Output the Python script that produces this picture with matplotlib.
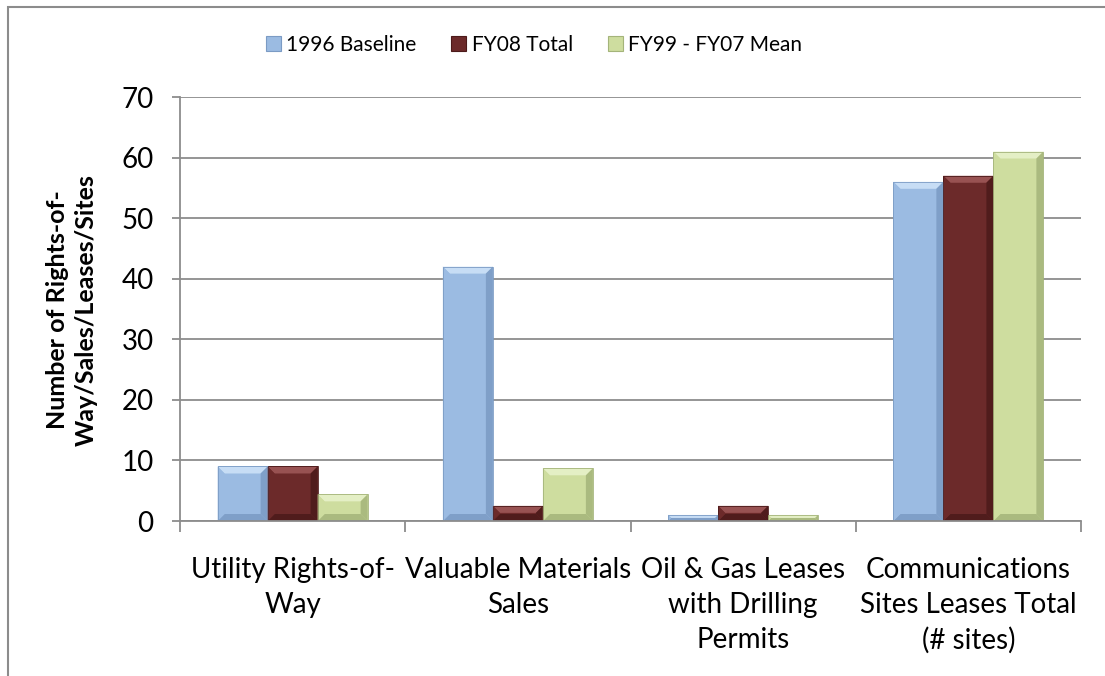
import matplotlib
matplotlib.use("Agg")
import matplotlib.pyplot as plt
from matplotlib.patches import Polygon, Patch, Rectangle
import numpy as np

categories = [
    "Utility Rights-of-\nWay",
    "Valuable Materials\nSales",
    "Oil & Gas Leases\nwith Drilling\nPermits",
    "Communications\nSites Leases Total\n(# sites)",
]
series_names = ["1996 Baseline", "FY08 Total", "FY99 - FY07 Mean"]
baseline_1996 = [9, 42, 1, 56]
fy08_total = [9, 2.5, 2.5, 57]
fy99_fy07_mean = [4.4, 8.7, 1, 61]
y_ticks = [0, 10, 20, 30, 40, 50, 60, 70]

# main / light (top bevel) / dark (right & bottom bevel) shades per series
palette = [
    ("#9bbbe2", "#cfe4f9", "#7b9bc4"),
    ("#6c2a2a", "#a15a5a", "#4c1a1a"),
    ("#cedd9f", "#e9f3cc", "#a4b47a"),
]

plt.rcParams["font.family"] = ["Lato", "DejaVu Sans"]

W, H = 1105, 676
fig = plt.figure(figsize=(W / 100, H / 100), dpi=100)
ax = fig.add_axes([180 / W, 1 - 521 / H, (1081 - 180) / W, (521 - 97) / H])

x = np.arange(len(categories))
bw = 0.222
all_series = [baseline_1996, fy08_total, fy99_fy07_mean]
bar_groups = []
for i, vals in enumerate(all_series):
    bars = ax.bar(x + (i - 1) * bw, vals, width=bw, color=palette[i][0],
                  linewidth=0, zorder=3)
    bar_groups.append(bars)

ax.set_xlim(-0.5, len(categories) - 0.5)
ax.set_ylim(0, 70)
ax.set_yticks(y_ticks)
ax.set_yticklabels([str(t) for t in y_ticks])

# bevelled edges drawn on top of each bar
to_px = ax.transData
to_data = ax.transData.inverted()
for i, bars in enumerate(bar_groups):
    main, light, dark = palette[i]
    for p in bars:
        x0, y0 = p.get_x(), p.get_y()
        x1, y1 = x0 + p.get_width(), y0 + p.get_height()
        (px0, py0), (px1, py1) = to_px.transform([(x0, y0), (x1, y1)])
        b = min(7.0, (py1 - py0) / 2.0, (px1 - px0) / 2.0)
        quads = {
            "top": ([(px0, py1), (px1, py1), (px1 - b, py1 - b), (px0 + b, py1 - b)], light),
            "right": ([(px1, py1), (px1, py0), (px1 - b, py0 + b), (px1 - b, py1 - b)], dark),
            "bottom": ([(px0, py0), (px1, py0), (px1 - b, py0 + b), (px0 + b, py0 + b)], dark),
            "left": ([(px0, py1), (px0 + b, py1 - b), (px0 + b, py0 + b), (px0, py0)], main),
        }
        for pts, col in quads.values():
            ax.add_patch(Polygon(to_data.transform(pts), closed=True,
                                 facecolor=col, edgecolor="none", alpha=0.85,
                                 zorder=4))
        ax.add_patch(Rectangle((x0, y0), x1 - x0, y1 - y0, facecolor="none",
                               edgecolor=dark, linewidth=0.6, zorder=5))

grid_col = "#8c8c8c"
ax.grid(axis="y", color=grid_col, linewidth=1.3, zorder=1)
ax.set_axisbelow(True)
for s in ["top", "right"]:
    ax.spines[s].set_visible(False)
for s in ["left", "bottom"]:
    ax.spines[s].set_color(grid_col)
    ax.spines[s].set_linewidth(1.3)
    ax.spines[s].set_zorder(6)

ax.tick_params(axis="y", direction="out", length=6, width=1.3, color=grid_col,
               labelsize=20, pad=13, labelcolor="black")
ax.set_xticks(x)
ax.set_xticklabels(categories, fontsize=20, linespacing=1.42)
ax.set_xticks(np.arange(-0.5, len(categories)), minor=True)
ax.tick_params(axis="x", which="major", length=0, pad=26)
ax.tick_params(axis="x", which="minor", direction="out", length=8, width=1.3,
               color=grid_col)

fig.text(72 / W, 1 - 310 / H, "Number of Rights-of-\nWay/Sales/Leases/Sites",
         rotation=90, ha="center", va="center", fontsize=18, fontweight="bold",
         linespacing=1.28)

handles = [Patch(facecolor=palette[i][0], edgecolor=palette[i][2], linewidth=0.8)
           for i in range(3)]
fig.legend(handles, series_names, loc="center",
           bbox_to_anchor=(534 / W, 1 - 45 / H), bbox_transform=fig.transFigure,
           ncol=3, frameon=False, fontsize=15, handlelength=0.72,
           handleheight=0.72, handletextpad=0.25, columnspacing=1.7)

# chart frame
fig.patches.append(Rectangle((8 / W, -0.2), 1.5, 1.2 - 7 / H,
                             transform=fig.transFigure, fill=False,
                             edgecolor="#8c8c8c", linewidth=1.5))

fig.savefig("out.png", dpi=100)
